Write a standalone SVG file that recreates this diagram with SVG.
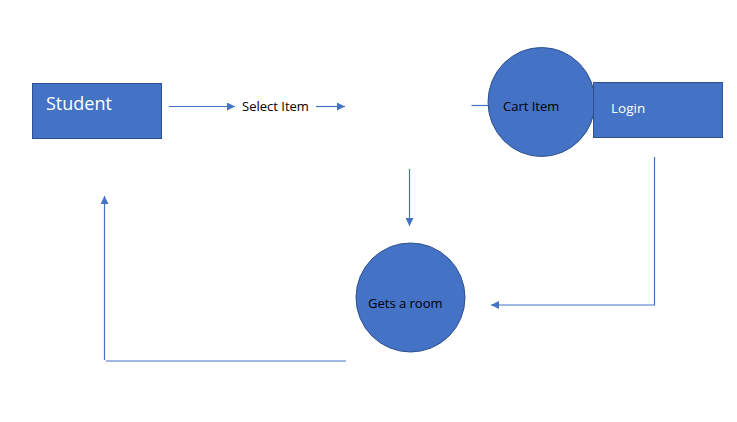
<svg xmlns="http://www.w3.org/2000/svg" width="737" height="422" viewBox="0 0 737 422">
<style>
.shape{fill:#4472C4;stroke:#2F528F;stroke-width:1}
.conn{fill:none;stroke:#4472C4;stroke-width:1.2}
.t{font-family:"Open Sans","Noto Sans",sans-serif;font-size:13px;fill:#000}
.w{fill:#fff}
</style>
<defs>
<marker id="ah" viewBox="0 0 10 10" refX="10" refY="5" markerWidth="8" markerHeight="8" markerUnits="userSpaceOnUse" orient="auto">
<path d="M0,0 L10,5 L0,10 z" fill="#4472C4"/>
</marker>
</defs>
<rect width="737" height="422" fill="#fff"/>
<g id="connectors">
<line class="conn" x1="169" y1="106.5" x2="235" y2="106.5" marker-end="url(#ah)"/>
<line class="conn" x1="316" y1="106.5" x2="345" y2="106.5" marker-end="url(#ah)"/>
<line class="conn" x1="471.5" y1="105.5" x2="489" y2="105.5"/>
<line class="conn" x1="409.5" y1="169" x2="409.5" y2="226" marker-end="url(#ah)"/>
<polyline class="conn" points="654.5,157 654.5,305 491,305" marker-end="url(#ah)"/>
<line class="conn" x1="104.5" y1="360" x2="104.5" y2="196" marker-end="url(#ah)"/>
<line class="conn" x1="106" y1="361" x2="346" y2="361"/>
</g>
<g id="student">
<rect class="shape" x="32.5" y="83.5" width="129" height="55"/>
<text class="t w" x="46" y="109.5" style="font-size:18px">Student</text>
</g>
<g id="select-item">
<text class="t" x="242" y="110.5">Select Item</text>
</g>
<g id="cart-item">
<ellipse class="shape" cx="541.5" cy="102" rx="53.5" ry="54.5"/>
<text class="t" x="503" y="111">Cart Item</text>
</g>
<g id="login">
<rect class="shape" x="593.5" y="82.5" width="129" height="55"/>
<text class="t w" x="611" y="112.5" style="font-size:13.5px">Login</text>
</g>
<g id="gets-a-room">
<ellipse class="shape" cx="410.5" cy="297.5" rx="54.5" ry="54.5"/>
<text class="t" x="368" y="307.5">Gets a room</text>
</g>
</svg>
